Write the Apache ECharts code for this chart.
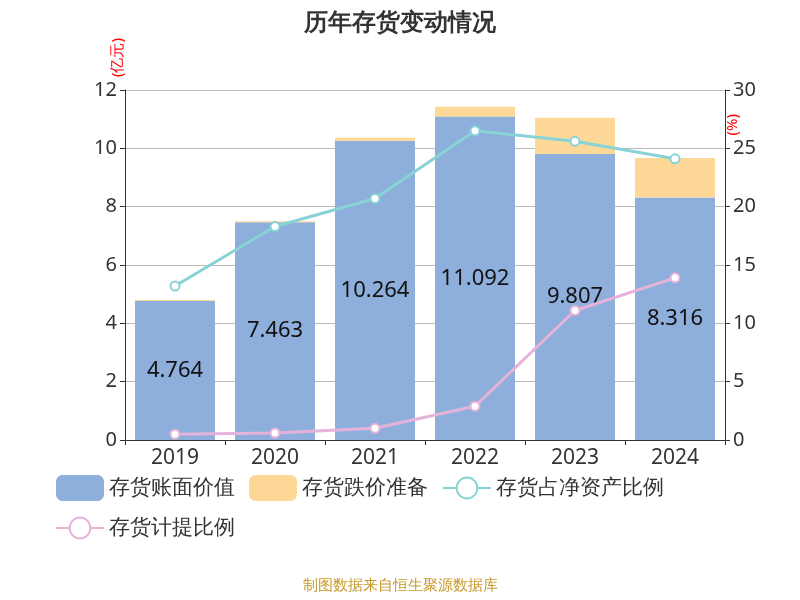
<!DOCTYPE html>
<html><head><meta charset="utf-8">
<script src="https://cdn.jsdelivr.net/npm/echarts@6/dist/echarts.min.js"></script>
<style>html,body{margin:0;padding:0}#c{width:800px;height:600px}</style>
</head><body><div id="c"></div>
<script>
const years = ['2019','2020','2021','2022','2023','2024'];
const bookValue = [4.764, 7.463, 10.264, 11.092, 9.807, 8.316];
const reserve = [0.04, 0.04, 0.10, 0.33, 1.24, 1.35];
const invToNetAssets = [13.2, 18.3, 20.7, 26.5, 25.6, 24.1];
const provisionRatio = [0.5, 0.6, 1.0, 2.9, 11.1, 13.9];
const leftTicks = [0, 12, 2];
const rightTicks = [0, 30, 5];

const chart = echarts.init(document.getElementById('c'));
const f = 'Noto Sans';
chart.setOption({
  textStyle:{fontFamily:f},
  title:{text:'历年存货变动情况',left:'center',top:6,textStyle:{fontSize:24,fontWeight:'bold',color:'#333',fontFamily:f}},
  grid:{left:125,right:75,top:90,bottom:160},
  legend:{left:50,right:30,top:470,itemWidth:48,itemHeight:26,itemGap:14,
    textStyle:{fontSize:21,color:'#333'},
    data:['存货账面价值','存货跌价准备','存货占净资产比例','存货计提比例']},
  xAxis:{type:'category',data:years,axisLine:{lineStyle:{color:'#333'}},axisTick:{show:true},
    axisLabel:{fontSize:21,color:'#333'}},
  yAxis:[
    {type:'value',min:leftTicks[0],max:leftTicks[1],interval:leftTicks[2],name:'(亿元)',nameLocation:'end',
     nameRotate:90,nameGap:-45,nameTextStyle:{color:'red',fontSize:15,padding:[0,0,0,0],align:'right',verticalAlign:'bottom'},
     axisLine:{show:true,lineStyle:{color:'#333'}},axisTick:{show:true},
     axisLabel:{fontSize:20,color:'#333'},splitLine:{lineStyle:{color:'#bbb'}}},
    {type:'value',min:rightTicks[0],max:rightTicks[1],interval:rightTicks[2],name:'(%)',nameRotate:90,
     nameTextStyle:{color:'red',fontSize:15,align:'right',verticalAlign:'top'},nameGap:-60,
     axisLine:{show:true,lineStyle:{color:'#333'}},axisTick:{show:true},
     axisLabel:{fontSize:20,color:'#333'},splitLine:{show:false}}
  ],
  series:[
    {name:'存货账面价值',type:'bar',stack:'a',data:bookValue,barWidth:80,itemStyle:{color:'#8eaedb'},
     label:{show:true,position:'inside',fontSize:22,color:'#111'}},
    {name:'存货跌价准备',type:'bar',stack:'a',data:reserve,itemStyle:{color:'#fed897'}},
    {name:'存货占净资产比例',type:'line',yAxisIndex:1,data:invToNetAssets,symbol:'circle',symbolSize:9,
     lineStyle:{color:'#88d3d6',width:3},itemStyle:{color:'#fff',borderColor:'#88d3d6',borderWidth:2}},
    {name:'存货计提比例',type:'line',yAxisIndex:1,data:provisionRatio,symbol:'circle',symbolSize:9,
     lineStyle:{color:'#e5b3d9',width:3},itemStyle:{color:'#fff',borderColor:'#e5b3d9',borderWidth:2}}
  ],
  graphic:[{type:'text',left:'center',top:578,style:{text:'制图数据来自恒生聚源数据库',fontSize:15,fill:'#c8992a',fontFamily:f}}]
});
</script></body></html>
